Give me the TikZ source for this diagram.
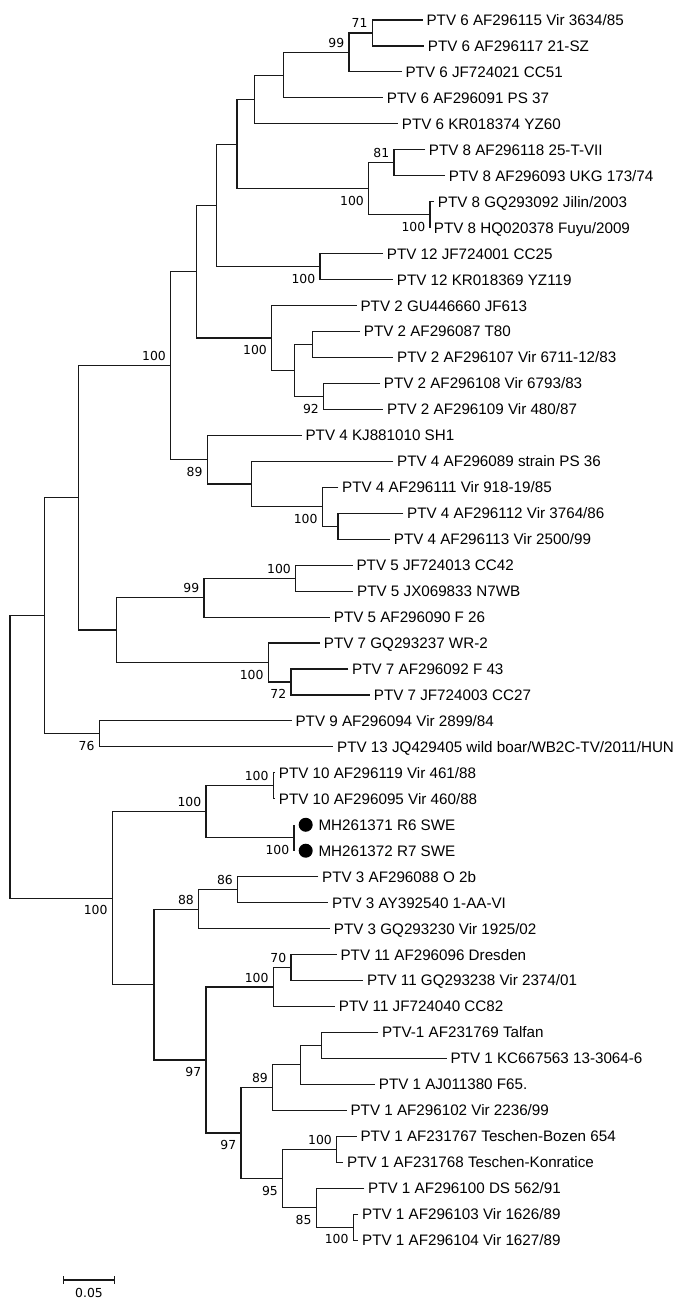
\documentclass[tikz,border=0pt]{standalone}
\usepackage{fontspec}
\setmainfont{Liberation Sans}
\newfontfamily\bsfont{DejaVu Sans}
\usepackage{tikz}

\tikzset{
  branch/.style={draw=black!90, line width=0.85pt},
  leaf/.style={anchor=west, inner xsep=2.5pt, inner ysep=0pt, text height=8.2pt, text depth=0pt,
               font=\fontsize{11.4pt}{13pt}\selectfont},
  bs/.style={anchor=base east, inner sep=0pt, font=\bsfont\fontsize{9.3pt}{11pt}\selectfont},
  bsup/.style={bs, xshift=-3.2pt, yshift=3.75pt},
  bsdn/.style={bs, xshift=-3.2pt, yshift=-12.5pt},
  dot/.style={circle, fill=black, inner sep=0pt, minimum size=10.5pt}
}

\begin{document}
\begin{tikzpicture}[x=0.75pt,y=-19.47pt]
\useasboundingbox[fill=white] (0,0.2296) rectangle (689,50.615);
\begin{scope}[every path/.style={branch}]

    % taxa
    \node[leaf] (l1) at (422.7,1) {PTV 6 AF296115 Vir 3634/85};
    \node[leaf] (l2) at (424,2) {PTV 6 AF296117 21-SZ};
    \node[leaf] (l3) at (401.7,3) {PTV 6 JF724021 CC51};
    \node[leaf] (l4) at (383,4) {PTV 6 AF296091 PS 37};
    \node[leaf] (l5) at (398,5) {PTV 6 KR018374 YZ60};
    \node[leaf] (l6) at (425,6) {PTV 8 AF296118 25-T-VII};
    \node[leaf] (l7) at (445,7) {PTV 8 AF296093 UKG 173/74};
    \node[leaf] (l8) at (434,8) {PTV 8 GQ293092 Jilin/2003};
    \node[leaf] (l9) at (430,9) {PTV 8 HQ020378 Fuyu/2009};
    \node[leaf] (l10) at (383,10) {PTV 12 JF724001 CC25};
    \node[leaf] (l11) at (393,11) {PTV 12 KR018369 YZ119};
    \node[leaf] (l12) at (356.7,12) {PTV 2 GU446660 JF613};
    \node[leaf] (l13) at (360,13) {PTV 2 AF296087 T80};
    \node[leaf] (l14) at (393.3,14) {PTV 2 AF296107 Vir 6711-12/83};
    \node[leaf] (l15) at (380,15) {PTV 2 AF296108 Vir 6793/83};
    \node[leaf] (l16) at (383.3,16) {PTV 2 AF296109 Vir 480/87};
    \node[leaf] (l17) at (301.7,17) {PTV 4 KJ881010 SH1};
    \node[leaf] (l18) at (393.3,18) {PTV 4 AF296089 strain PS 36};
    \node[leaf] (l19) at (338.3,19) {PTV 4 AF296111 Vir 918-19/85};
    \node[leaf] (l20) at (403.3,20) {PTV 4 AF296112 Vir 3764/86};
    \node[leaf] (l21) at (390,21) {PTV 4 AF296113 Vir 2500/99};
    \node[leaf] (l22) at (352.7,22) {PTV 5 JF724013 CC42};
    \node[leaf] (l23) at (353.3,23) {PTV 5 JX069833 N7WB};
    \node[leaf] (l24) at (330,24) {PTV 5 AF296090 F 26};
    \node[leaf] (l25) at (320,25) {PTV 7 GQ293237 WR-2};
    \node[leaf] (l26) at (348.3,26) {PTV 7 AF296092 F 43};
    \node[leaf] (l27) at (370,27) {PTV 7 JF724003 CC27};
    \node[leaf] (l28) at (291.7,28) {PTV 9 AF296094 Vir 2899/84};
    \node[leaf] (l29) at (333.3,29) {PTV 13 JQ429405 wild boar/WB2C-TV/2011/HUN};
    \node[leaf] (l30) at (275,30) {PTV 10 AF296119 Vir 461/88};
    \node[leaf] (l31) at (275,31) {PTV 10 AF296095 Vir 460/88};
    \coordinate (t32) at (294,32);
    \coordinate (t33) at (294,33);
    \node[dot] (d32) at (305.7,32) {};
    \node[dot] (d33) at (305.7,33) {};
    \node[leaf,xshift=1pt] (l32) at (d32.east) {MH261371 R6 SWE};
    \node[leaf,xshift=1pt] (l33) at (d33.east) {MH261372 R7 SWE};
    \node[leaf] (l34) at (318.3,34) {PTV 3 AF296088 O 2b};
    \node[leaf] (l35) at (328.3,35) {PTV 3 AY392540 1-AA-VI};
    \node[leaf] (l36) at (330,36) {PTV 3 GQ293230 Vir 1925/02};
    \node[leaf] (l37) at (336.7,37) {PTV 11 AF296096 Dresden};
    \node[leaf] (l38) at (363.3,38) {PTV 11 GQ293238 Vir 2374/01};
    \node[leaf] (l39) at (335,39) {PTV 11 JF724040 CC82};
    \node[leaf] (l40) at (378.3,40) {PTV-1 AF231769 Talfan};
    \node[leaf] (l41) at (446.7,41) {PTV 1 KC667563 13-3064-6};
    \node[leaf] (l42) at (375,42) {PTV 1 AJ011380 F65.};
    \node[leaf] (l43) at (346.7,43) {PTV 1 AF296102 Vir 2236/99};
    \node[leaf] (l44) at (356.7,44) {PTV 1 AF231767 Teschen-Bozen 654};
    \node[leaf] (l45) at (343.3,45) {PTV 1 AF231768 Teschen-Konratice};
    \node[leaf] (l46) at (364.3,46) {PTV 1 AF296100 DS 562/91};
    \node[leaf] (l47) at (358.3,47) {PTV 1 AF296103 Vir 1626/89};
    \node[leaf] (l48) at (358.3,48) {PTV 1 AF296104 Vir 1627/89};

    % inner nodes
    \coordinate (a12) at (372.3,1.5);
    \coordinate (a99) at (349,2.25);
    \coordinate (a4) at (283.3,3.125);
    \coordinate (a5) at (254.7,4.0625);
    \coordinate (b81) at (394,6.5);
    \coordinate (b89) at (430,8.5);
    \coordinate (b8) at (368.7,7.5);
    \coordinate (c1) at (237,5.781);
    \coordinate (d12) at (320,10.5);
    \coordinate (c2) at (216.7,8.141);
    \coordinate (e13) at (312.3,13.5);
    \coordinate (e92) at (323.7,15.5);
    \coordinate (e2) at (294.7,14.5);
    \coordinate (e100) at (271.7,13.25);
    \coordinate (c3) at (196.3,10.695);
    \coordinate (f20) at (338,20.5);
    \coordinate (f100) at (322.3,19.75);
    \coordinate (f2) at (251.7,18.875);
    \coordinate (f89) at (207.3,17.9375);
    \coordinate (c4) at (170.7,14.316);
    \coordinate (g100) at (295.7,22.5);
    \coordinate (g99) at (204,23.25);
    \coordinate (h72) at (291,26.5);
    \coordinate (h100) at (268.3,25.75);
    \coordinate (g57) at (116.7,24.5);
    \coordinate (c5) at (78.3,19.408);
    \coordinate (i76) at (99.3,28.5);
    \coordinate (c6) at (44.3,23.954);
    \coordinate (j10) at (273.3,30.5);
    \coordinate (jR) at (294,32.5);
    \coordinate (j100) at (206,31.5);
    \coordinate (k86) at (237.7,34.5);
    \coordinate (k88) at (198.7,35.25);
    \coordinate (m70) at (291,37.5);
    \coordinate (m100) at (273.3,38.25);
    \coordinate (n1) at (321.7,40.5);
    \coordinate (n2) at (300.3,41.25);
    \coordinate (n89) at (272.7,42.125);
    \coordinate (p100) at (336.7,44.5);
    \coordinate (q100) at (353.3,47.5);
    \coordinate (q85) at (316.3,46.75);
    \coordinate (p95) at (282.7,45.625);
    \coordinate (n97) at (241,43.875);
    \coordinate (m97) at (206,41.0625);
    \coordinate (k154) at (154,38.156);
    \coordinate (j112) at (112.3,34.828);
    \coordinate (root) at (10,29.391);

    % branches, upper child -| node |- lower child
    \draw (l1.west) -| (a12) |- (l2.west);
    \draw (a12) -| (a99) |- (l3.west);
    \draw (a99) -| (a4) |- (l4.west);
    \draw (a4) -| (a5) |- (l5.west);
    \draw (l6.west) -| (b81) |- (l7.west);
    \draw (l8.west) -| (b89) |- (l9.west);
    \draw (b81) -| (b8) |- (b89);
    \draw (a5) -| (c1) |- (b8);
    \draw (l10.west) -| (d12) |- (l11.west);
    \draw (c1) -| (c2) |- (d12);
    \draw (l13.west) -| (e13) |- (l14.west);
    \draw (l15.west) -| (e92) |- (l16.west);
    \draw (e13) -| (e2) |- (e92);
    \draw (l12.west) -| (e100) |- (e2);
    \draw (c2) -| (c3) |- (e100);
    \draw (l20.west) -| (f20) |- (l21.west);
    \draw (l19.west) -| (f100) |- (f20);
    \draw (l18.west) -| (f2) |- (f100);
    \draw (l17.west) -| (f89) |- (f2);
    \draw (c3) -| (c4) |- (f89);
    \draw (l22.west) -| (g100) |- (l23.west);
    \draw (g100) -| (g99) |- (l24.west);
    \draw (l26.west) -| (h72) |- (l27.west);
    \draw (l25.west) -| (h100) |- (h72);
    \draw (g99) -| (g57) |- (h100);
    \draw (c4) -| (c5) |- (g57);
    \draw (l28.west) -| (i76) |- (l29.west);
    \draw (c5) -| (c6) |- (i76);
    \draw (l30.west) -| (j10) |- (l31.west);
    \draw (t32) -- (t33);
    \draw (j10) -| (j100) |- (jR);
    \draw (l34.west) -| (k86) |- (l35.west);
    \draw (k86) -| (k88) |- (l36.west);
    \draw (l37.west) -| (m70) |- (l38.west);
    \draw (m70) -| (m100) |- (l39.west);
    \draw (l40.west) -| (n1) |- (l41.west);
    \draw (n1) -| (n2) |- (l42.west);
    \draw (n2) -| (n89) |- (l43.west);
    \draw (l44.west) -| (p100) |- (l45.west);
    \draw (l47.west) -| (q100) |- (l48.west);
    \draw (l46.west) -| (q85) |- (q100);
    \draw (p100) -| (p95) |- (q85);
    \draw (n89) -| (n97) |- (p95);
    \draw (m100) -| (m97) |- (n97);
    \draw (k88) -| (k154) |- (m97);
    \draw (j100) -| (j112) |- (k154);
    \draw (c6) -| (root) |- (j112);

    % bootstrap values
    \node[bsup] at (a12) {71};
    \node[bsup] at (a99) {99};
    \node[bsup] at (b81) {81};
    \node[bsdn] at (b8) {100};
    \node[bsdn] at (b89) {100};
    \node[bsdn] at (d12) {100};
    \node[bsup] at (c4) {100};
    \node[bsdn] at (e100) {100};
    \node[bsdn] at (e92) {92};
    \node[bsdn] at (f89) {89};
    \node[bsdn] at (f100) {100};
    \node[bsup] at (g100) {100};
    \node[bsup] at (g99) {99};
    \node[bsdn] at (h100) {100};
    \node[bsdn] at (h72) {72};
    \node[bsdn] at (i76) {76};
    \node[bsup] at (j10) {100};
    \node[bsup] at (j100) {100};
    \node[bsdn] at (jR) {100};
    \node[bsup] at (k86) {86};
    \node[bsup] at (k88) {88};
    \node[bsdn] at (j112) {100};
    \node[bsup] at (m70) {70};
    \node[bsup] at (m100) {100};
    \node[bsdn] at (m97) {97};
    \node[bsup] at (n89) {89};
    \node[bsdn] at (n97) {97};
    \node[bsup] at (p100) {100};
    \node[bsdn] at (p95) {95};
    \node[bsdn] at (q85) {85};
    \node[bsdn] at (q100) {100};

    % scale bar
    \coordinate (s0) at (63.3,49.537);
    \coordinate (s1) at (114.3,49.537);
    \draw (s0) -- (s1);
    \draw ([yshift=3pt]s0) -- ([yshift=-3pt]s0);
    \draw ([yshift=3pt]s1) -- ([yshift=-3pt]s1);
    \node[bs, anchor=center] (sl) at (89,50.02) {0.05};

\end{scope}
\end{tikzpicture}
\end{document}
